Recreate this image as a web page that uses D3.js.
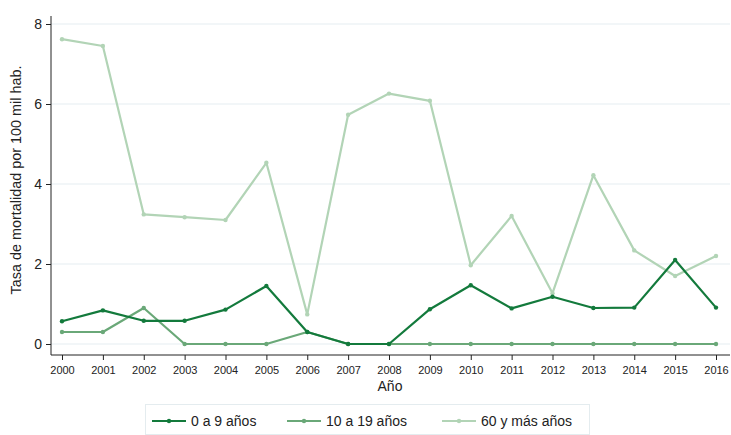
<!DOCTYPE html>
<html><head><meta charset="utf-8">
<script src="https://cdn.jsdelivr.net/npm/d3@7"></script>
<style>body{margin:0;background:#fff;font-family:"Liberation Sans",Arial,sans-serif;}</style>
</head><body><svg id="c" width="731" height="435"></svg>
<script>
const years = [2000,2001,2002,2003,2004,2005,2006,2007,2008,2009,2010,2011,2012,2013,2014,2015,2016];
const s0a9 = [0.57,0.84,0.58,0.58,0.86,1.45,0.3,0,0,0.87,1.47,0.89,1.18,0.9,0.91,2.1,0.91];
const s10a19 = [0.3,0.3,0.9,0,0,0,0.3,0,0,0,0,0,0,0,0,0,0];
const s60 = [7.62,7.45,3.24,3.17,3.1,4.53,0.74,5.73,6.26,6.08,1.97,3.2,1.27,4.22,2.34,1.7,2.2];
const yTicks = [0,2,4,6,8];
const seriesNames = ["0 a 9 años","10 a 19 años","60 y más años"];
const colors = ["#137a3c","#6aa878","#b2d4b6"];
const series = [s0a9,s10a19,s60];

const svg = d3.select("#c");
const x = d3.scaleLinear().domain([2000,2016]).range([62,716]);
const y = d3.scaleLinear().domain([0,8]).range([344,24]);

// grid
svg.append("g").selectAll("line").data(yTicks).join("line")
  .attr("x1",51).attr("x2",730).attr("y1",d=>y(d)).attr("y2",d=>y(d))
  .attr("stroke","#e6eef2").attr("stroke-width",1.2);

// axes
const yAxis = svg.append("g").attr("transform","translate(51,0)")
  .call(d3.axisLeft(y).tickValues(yTicks).tickSize(5).tickPadding(4));
yAxis.select(".domain").attr("d","M0,16V355");
yAxis.selectAll("text").attr("font-size",14).attr("font-family","Liberation Sans, Arial").attr("fill","#222");
yAxis.selectAll("line").attr("stroke","#222");
yAxis.select(".domain").attr("stroke","#222");

const xAxis = svg.append("g").attr("transform","translate(0,355)")
  .call(d3.axisBottom(x).tickValues(years).tickFormat(d3.format("d")).tickSize(5).tickPadding(6));
xAxis.select(".domain").attr("d","M51,0H730").attr("stroke","#222");
xAxis.selectAll("text").attr("font-size",11).attr("font-family","Liberation Sans, Arial").attr("fill","#222");
xAxis.selectAll("line").attr("stroke","#222");

svg.append("text").attr("x",390).attr("y",391).attr("text-anchor","middle")
  .attr("font-size",14).attr("fill","#222").text("Año");
svg.append("text").attr("transform","translate(21,180) rotate(-90)").attr("text-anchor","middle")
  .attr("font-size",14.4).attr("fill","#222").text("Tasa de mortalidad por 100 mil hab.");

// lines (draw light first)
const line = d3.line().x((d,i)=>x(years[i])).y(d=>y(d));
[2,1,0].forEach(k=>{
  const g = svg.append("g");
  g.append("path").datum(series[k]).attr("d",line).attr("fill","none")
    .attr("stroke",colors[k]).attr("stroke-width",2.2).attr("stroke-linejoin","round");
  g.selectAll("circle").data(series[k]).join("circle")
    .attr("cx",(d,i)=>x(years[i])).attr("cy",d=>y(d)).attr("r",2.2).attr("fill",colors[k]);
});

// legend
const lg = svg.append("g");
lg.append("rect").attr("x",145.5).attr("y",404.5).attr("width",444).attr("height",30)
  .attr("fill","#fff").attr("stroke","#e4ecef");
const lx = [152,287,442];
seriesNames.forEach((n,i)=>{
  lg.append("line").attr("x1",lx[i]).attr("x2",lx[i]+34).attr("y1",421).attr("y2",421)
    .attr("stroke",colors[i]).attr("stroke-width",2.2);
  lg.append("circle").attr("cx",lx[i]+17).attr("cy",421).attr("r",2.2).attr("fill",colors[i]);
  lg.append("text").attr("x",lx[i]+39).attr("y",426).attr("font-size",14).attr("fill","#222").text(n);
});
</script></body></html>
